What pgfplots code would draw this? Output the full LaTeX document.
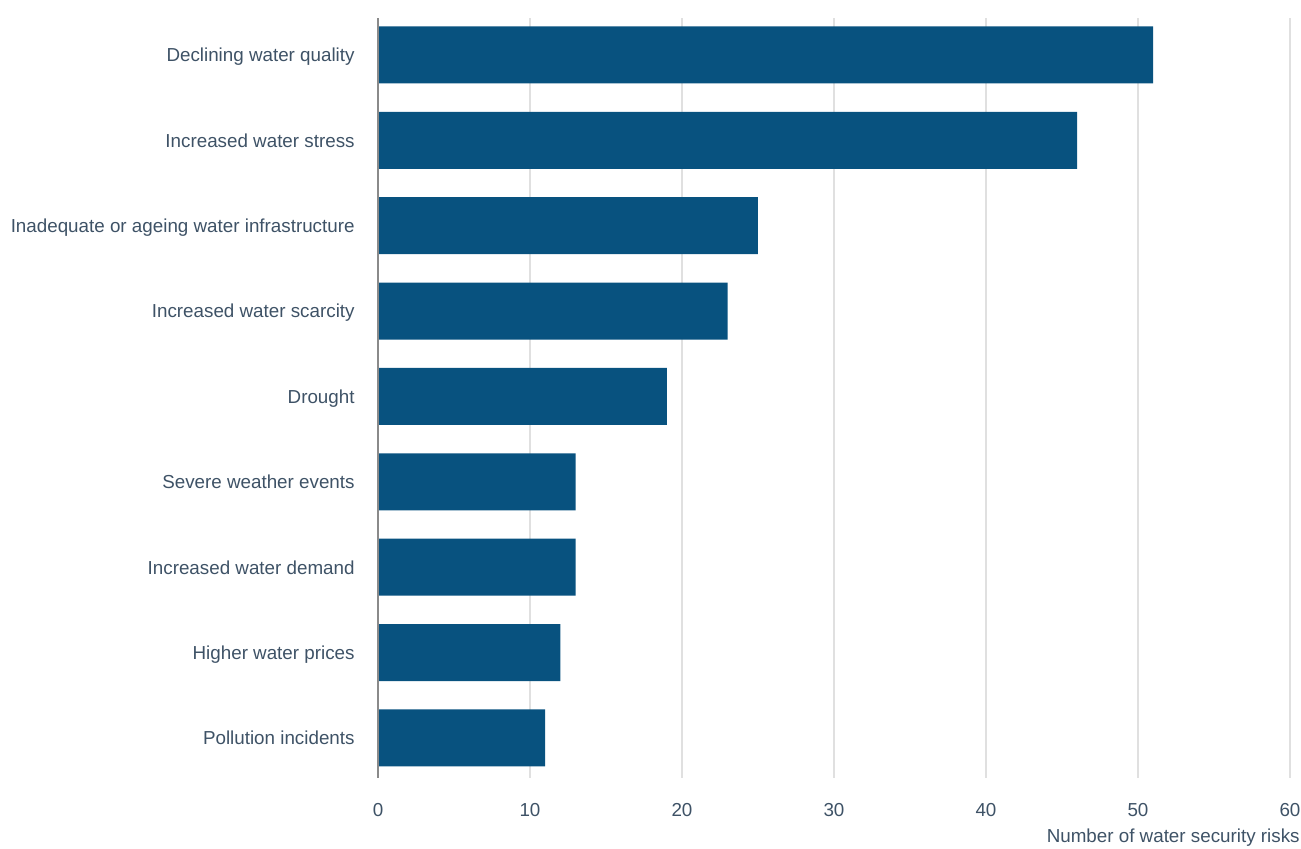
\documentclass[border=0pt]{standalone}
\usepackage{pgfplots}
\pgfplotsset{compat=1.18}
\usepackage{fontspec}
\setmainfont{Liberation Sans}
\definecolor{barblue}{HTML}{08527F}
\definecolor{txt}{HTML}{3E5266}
\definecolor{gridc}{HTML}{E0E0E0}
\definecolor{axc}{HTML}{8A8A8A}
\begin{document}
\fontsize{9.4pt}{11pt}\selectfont
\begin{tikzpicture}
\begin{axis}[
  at={(0,0)}, anchor=south west,
  scale only axis, width=456pt, height=380pt,
  xmin=0, xmax=60, ymin=-0.433, ymax=8.469, y dir=reverse,
  xbar, bar width=28.5pt,
  xtick={0,10,...,60}, ytick={0,...,8},
  yticklabels={Declining water quality, Increased water stress, Inadequate or ageing water infrastructure, Increased water scarcity, Drought, Severe weather events, Increased water demand, Higher water prices, Pollution incidents},
  major tick length=0pt,
  axis line style={draw=none},
  xmajorgrids, major grid style={gridc, line width=0.6pt},
  /pgf/number format/assume math mode=true,
  tick label style={font=\fontsize{9.4pt}{11pt}\selectfont, text=txt},
  xticklabel style={anchor=center, inner sep=0pt, yshift=-16pt},
  yticklabel style={anchor=base east, inner sep=0pt, xshift=-11.5pt, yshift=-3.4pt},
  xlabel={Number of water security risks},
  xlabel style={at={(axis description cs:1,0)}, anchor=east, inner sep=0pt, xshift=5pt, yshift=-30pt, text=txt, font=\fontsize{9.4pt}{11pt}\selectfont},
  clip=false,
]
\addplot[fill=barblue, draw=none] coordinates {
 (51,0) (46,1) (25,2) (23,3) (19,4) (13,5) (13,6) (12,7) (11,8)
};
\draw[axc, line width=0.6pt] (axis cs:0,-0.433) -- (axis cs:0,8.469);
\end{axis}
\pgfresetboundingbox
\path[use as bounding box] (-189pt,-35.5pt) rectangle (461.5pt,389pt);
\end{tikzpicture}
\end{document}
